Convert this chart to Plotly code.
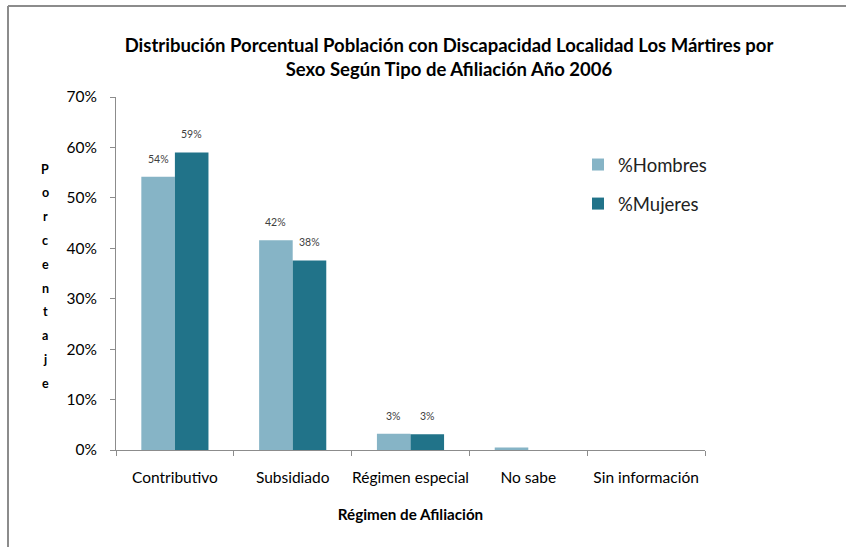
import plotly.graph_objects as go

categories = ["Contributivo", "Subsidiado", "Régimen especial", "No sabe", "Sin información"]
hombres = [54.2, 41.6, 3.2, 0.5, 0.0]
mujeres = [59.0, 37.6, 3.1, 0.0, 0.0]
series_names = ["%Hombres", "%Mujeres"]
y_ticks = [0, 10, 20, 30, 40, 50, 60, 70]
y_title_letters = list("Porcentaje")

FONT = "Lato"
W, H = 846, 547
L, R, T, B = 116, 705, 97, 450
pw, ph = R - L, B - T
def px(x): return (x - L) / pw
def py(y): return (B - y) / ph

def label(v):
    return f"{round(v)}%" if v >= 1 else ""

fig = go.Figure()
fig.add_trace(go.Bar(
    x=categories, y=hombres, name=series_names[0], legendgroup="h",
    marker=dict(color="#86B4C6", line=dict(width=0)),
))
fig.add_trace(go.Bar(
    x=categories, y=mujeres, name=series_names[1], legendgroup="m",
    marker=dict(color="#217389", line=dict(width=0)),
))

bar_half = pw / len(categories) * (1 - 0.43) / 4
for vals, shift in ((hombres, -bar_half), (mujeres, bar_half)):
    for c, v in zip(categories, vals):
        t = label(v)
        if t:
            fig.add_annotation(x=c, y=v, xref="x", yref="y", text=t, showarrow=False,
                               xshift=shift, yshift=10, yanchor="bottom", xanchor="center",
                               font=dict(size=10.5, color="#404040", family=FONT))

fig.update_layout(
    width=W, height=H,
    margin=dict(l=L, r=W - R, t=T, b=H - B, pad=0, autoexpand=False),
    paper_bgcolor="white", plot_bgcolor="white",
    font=dict(family=FONT, color="#000000"),
    barmode="group", bargap=0.43, bargroupgap=0,
    showlegend=True,
    legend=dict(x=px(578), y=py(146), xanchor="left", yanchor="top",
                font=dict(size=18.5, color="#222222", family=FONT),
                traceorder="grouped", tracegroupgap=12,
                itemwidth=30, bgcolor="rgba(0,0,0,0)"),
    title=dict(
        text="<b>Distribución Porcentual Población con Discapacidad Localidad Los Mártires por<br>Sexo Según Tipo de Afiliación Año 2006</b>",
        x=px(449), xanchor="center", xref="paper",
        y=1 - 52 / H, yanchor="middle",
        font=dict(size=18.5, color="#000000", family=FONT),
    ),
    xaxis=dict(
        showline=True, linecolor="#8C8C8C", linewidth=1,
        ticks="outside", ticklen=5, tickcolor="#8C8C8C", tickson="boundaries",
        ticklabelstandoff=13, tickangle=0, automargin=False,
        tickfont=dict(size=15.5, family=FONT, color="#000000"),
        title=dict(text="<b>Régimen de Afiliación</b>", font=dict(size=15.2, family=FONT), standoff=24),
        showgrid=False, zeroline=False,
    ),
    yaxis=dict(
        range=[0, 70], tickvals=y_ticks, ticktext=[f"{v}%" for v in y_ticks],
        showline=True, linecolor="#8C8C8C", linewidth=1,
        ticks="outside", ticklen=5, tickcolor="#8C8C8C",
        ticklabelstandoff=10, automargin=False,
        tickfont=dict(size=15.5, family=FONT, color="#000000"),
        showgrid=False, zeroline=False,
    ),
)

# Vertical stacked y-axis title (one letter per line)
for i, ch in enumerate(y_title_letters):
    fig.add_annotation(
        text=f"<b>{ch}</b>", xref="paper", yref="paper",
        x=px(45), y=py(169 + 23.8 * i), xanchor="center", yanchor="middle",
        showarrow=False, font=dict(size=12.5, family=FONT, color="#000000"),
    )

# Chart border (top and left visible)
fig.add_shape(type="line", xref="paper", yref="paper",
              x0=px(8), y0=py(6), x1=px(W + 5), y1=py(6),
              line=dict(color="#8C8C8C", width=2))
fig.add_shape(type="line", xref="paper", yref="paper",
              x0=px(8), y0=py(6), x1=px(8), y1=py(H + 5),
              line=dict(color="#8C8C8C", width=2))

fig.write_html("out.html", config={"displayModeBar": False},
               post_script="document.body.style.margin='0';document.body.style.padding='0';")
